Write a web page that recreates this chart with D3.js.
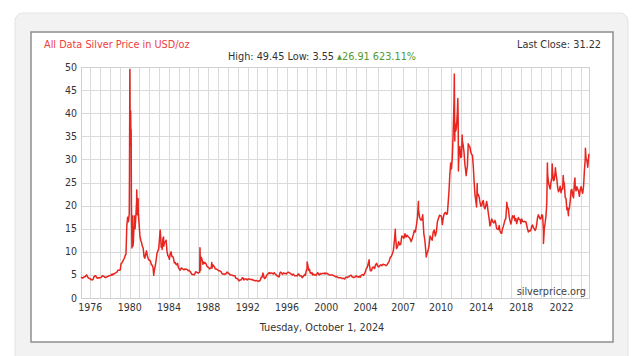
<!DOCTYPE html>
<html><head><meta charset="utf-8">
<script src="https://cdn.jsdelivr.net/npm/d3@7"></script>
<style>
html,body{margin:0;padding:0;background:#fff;}
svg{display:block;}
text{font-family:"DejaVu Sans Condensed","DejaVu Sans",sans-serif;}
</style></head>
<body>
<svg id="c" width="640" height="356"></svg>
<script>
// ---- data (monthly average prices, USD/oz) ----
const p1975to1979 = [
4.5,4.4,4.3,4.4,4.6,4.6,4.8,5.0,4.6,4.4,4.2,4.2,
4.0,4.0,3.9,4.1,4.6,4.8,4.8,4.5,4.3,4.4,4.3,4.4,
4.4,4.5,4.8,4.8,4.7,4.5,4.4,4.5,4.6,4.7,4.8,4.8,
4.9,4.9,5.2,5.0,5.2,5.3,5.4,5.5,5.6,6.0,6.0,6.0,
6.1,7.4,7.6,7.9,8.3,8.6,9.2,9.5,15.5,17.5,16.5,18.3];
const p1980s = [
38,35,15,14,12,16.5,15.8,17.5,21.0,19.5,18.5,16.0,
13.5,12.5,12.0,11.2,10.8,9.0,8.6,9.5,10.2,9.2,8.6,8.2,
8.2,7.9,7.2,7.1,6.6,5.2,6.3,7.2,8.5,9.8,10.2,10.8,
13.0,14.2,11.0,11.5,12.8,11.2,12.0,12.2,12.5,10.2,9.2,9.0,
8.4,9.6,10.0,9.0,9.0,8.6,7.6,7.7,7.3,7.2,7.5,6.6,
6.3,6.0,6.4,6.5,6.3,6.2,6.1,6.3,6.2,6.2,6.1,5.9,
6.0,5.8,5.6,5.2,5.1,5.1,5.0,5.2,5.7,5.6,5.5,5.4,
5.5,5.6,6.0,8.8,8.2,7.3,7.8,7.5,7.6,7.3,6.8,6.7,
6.6,6.3,6.4,6.5,6.5,7.2,7.0,6.7,6.3,6.3,6.2,6.1,
5.9,5.9,5.8,5.7,5.3,5.2,5.2,5.1,5.2,5.2,5.6,5.6];
const p1990s = [
5.3,5.3,5.0,5.0,5.0,4.9,4.8,4.8,4.8,4.3,4.2,4.2,
4.0,3.7,3.9,3.9,4.0,4.4,4.3,3.9,4.1,4.1,4.1,3.9,
4.1,4.1,4.1,4.0,4.0,4.0,3.9,3.8,3.8,3.7,3.8,3.7,
3.7,3.6,3.7,3.9,4.5,4.5,5.2,4.8,4.2,4.3,4.6,5.0,
5.2,5.3,5.5,5.3,5.4,5.4,5.3,5.2,5.5,5.2,5.1,4.8,
4.8,4.6,4.6,5.5,5.6,5.4,5.1,5.4,5.4,5.3,5.3,5.2,
5.5,5.6,5.5,5.4,5.3,5.1,5.0,5.2,5.0,4.8,4.8,4.8,
4.8,5.2,5.2,4.8,4.8,4.8,4.4,4.6,4.8,5.1,4.9,5.9,
6.4,7.0,6.0,6.2,5.4,5.3,5.5,5.0,5.2,5.0,5.0,4.9,
5.2,5.5,5.2,5.0,5.3,5.2,5.3,5.3,5.3,5.4,5.2,5.4];
const p2000s = [
5.3,5.3,5.1,5.0,5.0,5.0,5.0,5.0,4.9,4.8,4.7,4.6,
4.7,4.5,4.4,4.4,4.4,4.4,4.3,4.2,4.3,4.2,4.1,4.5,
4.5,4.4,4.6,4.6,4.8,4.9,4.9,4.6,4.5,4.4,4.5,4.6,
4.8,4.6,4.6,4.5,4.7,4.5,4.9,5.0,5.1,4.9,5.2,5.6,
6.3,6.6,7.5,7.3,5.9,5.9,6.6,6.7,6.4,7.2,7.5,6.9,
6.7,7.0,7.2,7.0,7.3,7.2,7.2,7.0,7.2,7.6,8.0,8.8,
9.0,9.6,10.3,12.5,13.5,10.7,11.1,12.2,11.5,11.6,13.4,13.3,
12.9,13.9,13.2,13.6,13.3,13.1,12.8,12.2,12.9,13.7,14.6,14.3,
15.8,17.5,19.0,17.5,16.9,16.9,18.0,14.0,12.5,10.0,9.6,10.2,
11.3,13.4,12.9,12.5,14.3,14.7,13.4,14.3,16.5,17.2,17.9,17.8];
const p2010s = [
17.7,15.9,17.2,18.1,18.4,18.5,18.1,18.2,20.6,23.2,26.7,29.2,
28.0,30.6,35.8,42.7,38.0,36.1,37.1,40.3,38.0,31.9,32.8,30.4,
30.6,34.0,33.0,31.5,28.9,27.5,27.3,28.6,33.4,33.0,32.7,31.6,
31.1,30.9,28.7,25.3,22.5,21.1,19.7,22.1,22.4,21.9,20.8,19.9,
19.9,20.8,21.1,19.7,19.3,19.9,20.9,19.9,18.4,17.2,15.6,16.1,
17.1,16.8,16.3,16.3,16.8,16.1,15.0,14.9,14.8,15.7,14.5,14.1,
14.0,15.0,15.5,16.2,16.9,17.2,20.0,19.6,19.4,17.6,16.7,16.0,
16.8,17.8,17.4,17.8,16.7,17.2,16.1,16.9,17.4,17.0,17.0,16.1,
17.1,16.6,16.5,16.6,16.5,16.5,15.7,14.9,14.3,14.6,14.5,14.7,
15.6,15.8,15.2,15.0,14.6,15.0,16.0,17.5,18.0,17.5,17.1,17.2];
const p2020s = [
18.0,17.8,14.5,15.0,16.2,17.7,20.6,26.9,25.0,24.2,23.6,25.0,
26.0,27.2,25.4,25.6,27.4,26.9,25.8,23.9,23.0,23.4,24.2,22.8,
23.6,23.6,25.4,24.7,21.8,21.5,19.1,19.5,18.9,19.4,21.0,23.3,
23.5,22.2,21.7,25.0,24.1,23.2,24.1,23.5,23.2,22.0,23.5,24.1,
23.2,22.7,24.2,27.6,30.0,30.2,29.8,28.3,30.5];
const seriesStarts = [1975, 1980, 1990, 2000, 2010, 2020];
// intra-month extremes (decimal year, price)
const extremes = [
[1979.98,26],[1980.01,44],[1980.02,49.45],[1980.07,33],[1980.10,40.5],[1980.15,36.5],
[1980.18,20],[1980.23,10.8],[1980.26,17.8],[1980.33,11.2],[1980.46,17.8],[1980.55,15],
[1980.72,23.4],[1980.78,18],[1980.86,21.5],[1982.45,4.9],[1983.1,14.7],[1983.3,10.5],
[1983.45,13.2],[1987.15,10.9],[1987.22,8.5],[1988.35,7.7],[1993.55,5.4],[1998.05,7.8],
[2004.28,8.3],[2006.36,14.9],[2008.2,20.9],[2008.82,8.9],[2011.32,48.5],[2011.37,34],
[2011.67,43.2],[2011.73,27.5],[2012.1,35.3],[2012.5,26.5],[2013.6,24.8],[2016.55,20.7],
[2020.21,11.8],[2020.6,29.2],[2021.08,29.0],[2021.4,28.2],[2022.18,26.5],[2022.7,17.8],
[2023.35,26.0],[2024.39,32.4],[2024.75,31.22]];
const xTickYears = [1976,1980,1984,1988,1992,1996,2000,2004,2007,2010,2014,2018,2022];
const yTickValues = [0,5,10,15,20,25,30,35,40,45,50];
const titleText = "All Data Silver Price in USD/oz";
const lastCloseText = "Last Close: 31.22";
const statsDark = "High: 49.45 Low: 3.55 ";
const statsGreen = "26.91 623.11%";
const dateText = "Tuesday, October 1, 2024";
const sourceText = "silverprice.org";

// ---- build points ----
const seriesArrays = [p1975to1979, p1980s, p1990s, p2000s, p2010s, p2020s];
let pts = [];
seriesArrays.forEach((arr, k) => arr.forEach((v, i) => pts.push([seriesStarts[k] + (i + 0.5) / 12, v])));
pts = pts.concat(extremes).sort((a, b) => a[0] - b[0]);

// ---- layout ----
const svg = d3.select("#c");
const L = 81, R = 589, T = 67, B = 298;
const W = R - L;

svg.append("rect").attr("x", 15).attr("y", 13).attr("width", 613).attr("height", 380)
  .attr("rx", 8).attr("fill", "#f2f2f2").attr("stroke", "#e4e4e4");
svg.append("rect").attr("x", 31).attr("y", 32).attr("width", 582).attr("height", 310)
  .attr("fill", "#fff").attr("stroke", "#8f8f8f").attr("stroke-width", 1.5);

const x = d3.scaleLinear().domain([1975.05, 2004, 2010, 2024.75]).range([L, L + W * 0.5603, L + W * 0.7088, R]);
const y = d3.scaleLinear().domain([0, 50]).range([B, T]);

// grid
const g = svg.append("g");
g.selectAll("line.v").data(d3.range(1976, 2025)).join("line")
  .attr("x1", d => Math.round(x(d)) + 0.5).attr("x2", d => Math.round(x(d)) + 0.5)
  .attr("y1", T).attr("y2", B + 1).attr("stroke", "#dadada").attr("stroke-width", 1);
g.selectAll("line.h").data(yTickValues).join("line")
  .attr("x1", L).attr("x2", R).attr("y1", d => Math.round(y(d)) + 0.5).attr("y2", d => Math.round(y(d)) + 0.5)
  .attr("stroke", "#dadada").attr("stroke-width", 1);
svg.append("rect").attr("x", L + 0.5).attr("y", T + 0.5).attr("width", W).attr("height", B - T)
  .attr("fill", "none").attr("stroke", "#d0d0d0");

// axes labels
svg.selectAll("text.yt").data(yTickValues).join("text")
  .attr("x", 77).attr("y", d => y(d) + 3.5).attr("text-anchor", "end")
  .attr("font-size", 10.5).attr("fill", "#333").text(d => d);
svg.selectAll("text.xt").data(xTickYears).join("text")
  .attr("x", d => x(d)).attr("y", 311).attr("text-anchor", "middle")
  .attr("font-size", 10.5).attr("fill", "#333").text(d => d);

// line
const line = d3.line().x(d => x(d[0])).y(d => y(d[1]));
svg.append("path").datum(pts).attr("d", line).attr("fill", "none")
  .attr("stroke", "#e8251f").attr("stroke-width", 1.5).attr("stroke-linejoin", "round");

// texts
svg.append("text").attr("x", 44).attr("y", 48).attr("font-size", 10.8).attr("fill", "#f03c3c").text(titleText);
svg.append("text").attr("x", 601).attr("y", 48).attr("text-anchor", "end").attr("font-size", 10.8).attr("fill", "#333").text(lastCloseText);
const st = svg.append("text").attr("x", 322).attr("y", 60).attr("text-anchor", "middle").attr("font-size", 10.8);
st.append("tspan").attr("fill", "#333").text(statsDark);
st.append("tspan").attr("fill", "#4f9a2e").attr("font-size", 7).attr("dy", -1).text("\u25B2");
st.append("tspan").attr("fill", "#4f9a2e").attr("dy", 1).text(statsGreen);
svg.append("text").attr("x", 586).attr("y", 295).attr("text-anchor", "end").attr("font-size", 10.8).attr("fill", "#444").text(sourceText);
svg.append("text").attr("x", 322).attr("y", 331).attr("text-anchor", "middle").attr("font-size", 10.8).attr("fill", "#333").text(dateText);
</script>
</body></html>
